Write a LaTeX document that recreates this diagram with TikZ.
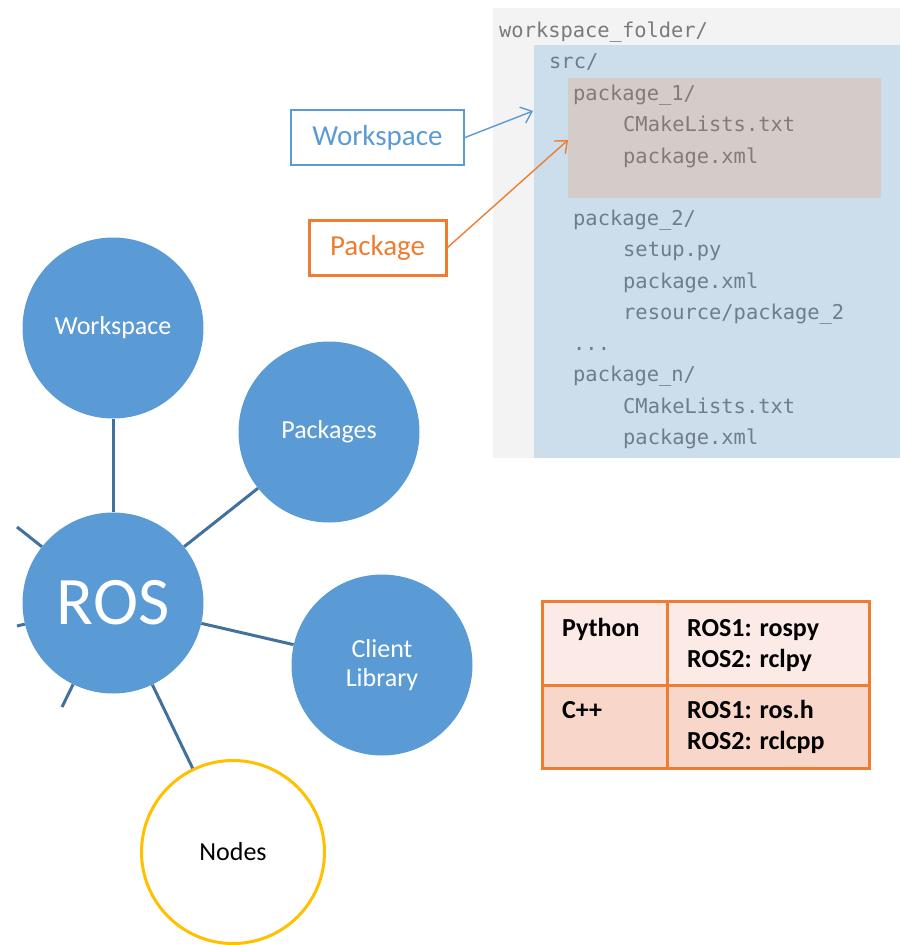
\documentclass[tikz,border=0pt]{standalone}
\usepackage{fontspec}
\setmainfont{Carlito}
\setmonofont{DejaVu Sans Mono}
\usetikzlibrary{arrows.meta, positioning}

\definecolor{topicblue}{HTML}{5B9BD5}
\definecolor{linkblue}{HTML}{41719C}
\definecolor{tagorange}{HTML}{ED7D31}
\definecolor{nodeyellow}{HTML}{FFC000}
\definecolor{panelgrey}{HTML}{F3F3F3}
\definecolor{panelblue}{HTML}{CCDDEC}
\definecolor{paneltan}{HTML}{D3CCC8}
\definecolor{dirgrey}{HTML}{7A7A7A}
\definecolor{dirblue}{HTML}{6E7D8C}
\definecolor{dirtan}{HTML}{827B78}
\definecolor{rowlight}{HTML}{FBEAE5}
\definecolor{rowdark}{HTML}{F8D6C9}

\begin{document}
\begin{tikzpicture}[
    x=1pt, y=-1pt,
    topic/.style={shape=circle, fill=topicblue, text=white, minimum size=181pt, inner sep=0pt,
        align=center, font=\fontsize{26}{29}\selectfont},
    link/.style={draw=linkblue, line width=3pt},
    tag/.style={draw, line width=2pt, minimum height=55pt, inner sep=0pt,
        font=\fontsize{29}{32}\selectfont},
    pointer/.style={-{Straight Barb[length=10pt, width=17pt]}, line width=1.4pt},
    dirline/.style={anchor=base west, inner sep=0pt, font=\ttfamily\fontsize{20.4}{24}\selectfont},
    cellline/.style={anchor=base west, inner sep=0pt, font=\bfseries\fontsize{26}{30}\selectfont},
]
\useasboundingbox (0,0) rectangle (900,945);

% folder listing
\fill[panelgrey] (493,8) rectangle (900,458);
\fill[panelblue] (534,45) rectangle (900,458);
\fill[paneltan] (568,78) rectangle (881,198);

\node[dirline, text=dirgrey] (wsdir) at (499,37) {workspace\_folder/};
\node[dirline, text=dirblue] (srcdir) at (549,68) {src/};
\node[dirline, text=dirtan] (pkg1) at (573,100) {package\_1/};
\node[dirline, text=dirtan] (pkg1cmake) at (623,131) {CMakeLists.txt};
\node[dirline, text=dirtan] (pkg1xml) at (623,163) {package.xml};
\node[dirline, text=dirblue] (pkg2) at (573,225) {package\_2/};
\node[dirline, text=dirblue] (pkg2setup) at (623,256) {setup.py};
\node[dirline, text=dirblue] (pkg2xml) at (623,288) {package.xml};
\node[dirline, text=dirblue] (pkg2res) at (623,319) {resource/package\_2};
\node[dirline, text=dirblue] (dots) at (573,350) {...};
\node[dirline, text=dirblue] (pkgn) at (573,381) {package\_n/};
\node[dirline, text=dirblue] (pkgncmake) at (623,413) {CMakeLists.txt};
\node[dirline, text=dirblue] (pkgnxml) at (623,444) {package.xml};

% labels pointing into the listing
\node[tag, draw=topicblue, text=topicblue, minimum width=173pt] (wstag) at (377.5,137.5) {Workspace};
\node[tag, draw=tagorange, text=tagorange, minimum width=137pt, line width=3pt] (pkgtag) at (377.5,247.5) {Package};
\coordinate (wstip) at (533,111);
\coordinate (pkgtip) at (568,140);
\draw[pointer, topicblue] (wstag.east) -- (wstip);
\draw[pointer, tagorange] (pkgtag.east) -- (pkgtip);

% concept map
\node[topic] (ros) at (113,603) {\fontsize{68}{70}\selectfont ROS};
\node[topic] (wscirc) at (113,328) {Workspace};
\node[topic] (pkgcirc) at (329,432) {Packages};
\node[topic] (client) at (382,665) {Client\\Library};
\node[topic, fill=white, text=black, draw=nodeyellow, line width=3pt, minimum size=183pt] (nodescirc) at (233,852) {Nodes};

\coordinate (stuba) at (17,527);
\coordinate (stubb) at (17,626);
\coordinate (stubc) at (62,707);

\path[link]
    (ros) edge (wscirc)
    (ros) edge (pkgcirc)
    (ros) edge (client)
    (ros) edge (nodescirc)
    (ros) edge (stuba)
    (ros) edge (stubb)
    (ros) edge (stubc)
;

% client library table
\fill[rowlight] (542,601) rectangle (869,685);
\fill[rowdark] (542,685) rectangle (869,768);
\draw[tagorange, line width=3pt] (542,601) rectangle (869,768)
    (667,601) -- (667,768) (542,685) -- (869,685);

\node[cellline] (python) at (562,636) {Python};
\node[cellline] (rospy) at (687,636) {ROS1: rospy};
\node[cellline] (rclpy) at (687,667) {ROS2: rclpy};
\node[cellline] (cpp) at (562,718) {C++};
\node[cellline] (rosh) at (687,718) {ROS1: ros.h};
\node[cellline] (rclcpp) at (687,749) {ROS2: rclcpp};
\end{tikzpicture}
\end{document}
